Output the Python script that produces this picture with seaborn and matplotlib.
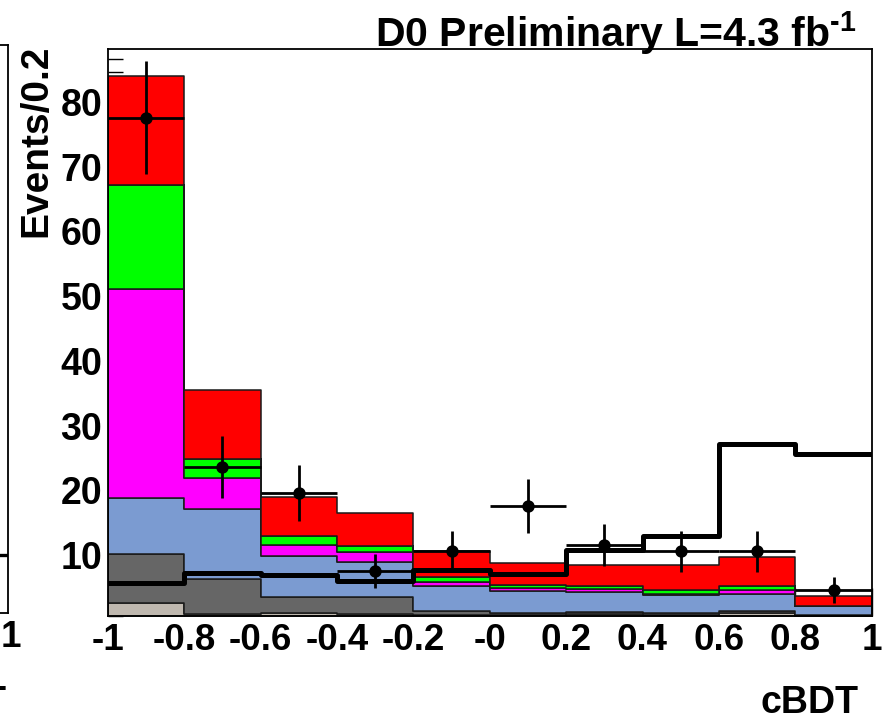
import numpy as np
import pandas as pd
import matplotlib
matplotlib.use("Agg")
import matplotlib.pyplot as plt
import matplotlib.transforms as mtransforms
import seaborn as sns

# ---- histogram binning and labels ----
bin_edges = [-1.0, -0.8, -0.6, -0.4, -0.2, 0.0, 0.2, 0.4, 0.6, 0.8, 1.0]
x_tick_labels = ["-1", "-0.8", "-0.6", "-0.4", "-0.2", "-0", "0.2", "0.4", "0.6", "0.8", "1"]
y_tick_values = [10, 20, 30, 40, 50, 60, 70, 80]

# ---- background components (events per bin, bottom to top of the stack) ----
bkg_tan = [2.1, 0.3, 0.5, 0.3, 0.2, 0.2, 0.3, 0.2, 0.45, 0.05]
bkg_gray = [7.5, 5.4, 2.5, 2.7, 0.65, 0.35, 0.35, 0.25, 0.35, 0.1]
bkg_blue = [8.7, 10.85, 6.35, 5.4, 3.85, 3.35, 3.15, 2.75, 2.7, 1.35]
bkg_magenta = [32.3, 4.85, 1.65, 1.5, 0.6, 0.5, 0.4, 0.3, 0.5, 0.05]
bkg_green = [16.0, 2.9, 1.4, 0.9, 0.7, 0.4, 0.45, 0.5, 0.7, 0.05]
bkg_red = [16.9, 10.6, 6.0, 5.1, 4.1, 3.4, 3.3, 3.9, 4.5, 1.5]

# ---- signal expectation (drawn unstacked) and observed data ----
signal = [5.2, 6.6, 6.3, 5.4, 7.2, 6.5, 10.2, 12.4, 26.6, 25.0]
data_counts = [77, 23, 19, 7, 10, 17, 11, 10, 10, 4]

# neighbouring panel: only its last-bin signal level reaches into view
left_panel_signal_last = [9.0]

bin_centers = [(a + b) / 2 for a, b in zip(bin_edges[:-1], bin_edges[1:])]
half_width = [(b - a) / 2 for a, b in zip(bin_edges[:-1], bin_edges[1:])]

components = {
    "red": bkg_red,
    "green": bkg_green,
    "magenta": bkg_magenta,
    "blue": bkg_blue,
    "gray": bkg_gray,
    "tan": bkg_tan,
}
palette = {
    "red": "#FF0000",
    "green": "#00FF00",
    "magenta": "#FF00FF",
    "blue": "#7B9BD1",
    "gray": "#666666",
    "tan": "#BFB8AF",
}

rows = []
for name, vals in components.items():
    for xc, v in zip(bin_centers, vals):
        rows.append({"cBDT": xc, "weight": v, "component": name})
df = pd.DataFrame(rows)

sns.set_style("white")
plt.rcParams["font.family"] = ["Liberation Sans", "DejaVu Sans"]
plt.rcParams["font.weight"] = "bold"
for key in ("text.color", "axes.labelcolor", "xtick.color", "ytick.color"):
    plt.rcParams[key] = "black"
plt.rcParams["mathtext.fontset"] = "custom"
plt.rcParams["mathtext.rm"] = "Liberation Sans:bold"
plt.rcParams["mathtext.bf"] = "Liberation Sans:bold"
plt.rcParams["mathtext.it"] = "Liberation Sans:bold"

W, H = 884, 722
fig = plt.figure(figsize=(W / 100, H / 100), dpi=100)

def fx(px):
    return px / W

def fy(py):
    return 1 - py / H

# main panel frame (pixel edges)
L, R, T, B = 107.7, 871.7, 49.0, 616.2
ax = fig.add_axes([fx(L), fy(B), fx(R) - fx(L), fy(T) - fy(B)])
ax.set_axisbelow(True)

sns.histplot(
    data=df, x="cBDT", weights="weight", hue="component",
    hue_order=list(components.keys()), bins=bin_edges,
    multiple="stack", element="step", palette=palette, alpha=1,
    linewidth=1.1, edgecolor="#1a1a1a", legend=False, ax=ax,
)

sns.histplot(
    x=bin_centers, weights=signal, bins=bin_edges, element="step",
    fill=False, color="black", linewidth=3.6, ax=ax,
)

ax.errorbar(bin_centers, data_counts, xerr=half_width, yerr=np.sqrt(data_counts),
            fmt="none", ecolor="black", elinewidth=2.0, capsize=0, zorder=4)
sns.scatterplot(x=bin_centers, y=data_counts, color="black", s=80,
                edgecolor="black", linewidth=0, zorder=5, ax=ax)

ax.set_xlim(-1, 1)
ax.set_ylim(0, 87.6)
ax.set_xlabel("")
ax.set_ylabel("")
ax.set_xticks(bin_edges)
ax.set_xticklabels(x_tick_labels, fontweight="bold", fontsize=26.5)
ax.set_yticks(y_tick_values)
ax.set_yticklabels([str(v) for v in y_tick_values], fontweight="bold", fontsize=27)
ax.set_yticks(np.arange(0, 88, 2), minor=True)
ax.tick_params(axis="y", which="major", direction="in", length=20, width=1, pad=4, left=True)
ax.tick_params(axis="y", which="minor", direction="in", length=11, width=1, left=True)
ax.tick_params(axis="x", which="major", direction="in", length=20, width=1, pad=5, bottom=True)
shift = mtransforms.ScaledTranslation(0, -3.6 / 100, fig.dpi_scale_trans)
for lab in ax.get_yticklabels():
    lab.set_transform(lab.get_transform() + shift)
for s in ax.spines.values():
    s.set_color("black")
    s.set_linewidth(1.3)
    s.set_zorder(6)

# neighbouring panel, mostly outside the canvas
LB, LT = 613.0, 45.0
axl = fig.add_axes([fx(8) - (fx(R) - fx(L)), fy(LB), fx(R) - fx(L), fy(LT) - fy(LB)])
axl.set_xlim(-1, 1)
axl.set_ylim(0, 87.6)
axl.plot([bin_edges[-2], bin_edges[-1]], left_panel_signal_last * 2, color="black", lw=2.4)
axl.set_xticks([1.0])
axl.set_xticklabels(["1"], fontweight="bold", fontsize=26.5)
axl.set_yticks([])
axl.tick_params(axis="x", length=0, pad=5)
nudge = mtransforms.ScaledTranslation(2.5 / 100, 0, fig.dpi_scale_trans)
for lab in axl.get_xticklabels():
    lab.set_transform(lab.get_transform() + nudge)
axl.set_facecolor("white")
for s in axl.spines.values():
    s.set_color("black")
    s.set_linewidth(1.3)

# titles and axis captions
fig.text(fx(857), fy(47), r"D0 Preliminary L=4.3 fb$^{\text{-1}}$", ha="right", va="baseline",
         fontsize=29.5, fontweight="bold")
fig.text(fx(858), fy(721), "cBDT", ha="right", va="bottom", fontsize=27, fontweight="bold")
fig.text(fx(7), fy(721), "cBDT", ha="right", va="bottom", fontsize=27, fontweight="bold")
fig.text(fx(36), fy(45), "Events/0.2", rotation=90, ha="center", va="top",
         fontsize=28, fontweight="bold")

fig.savefig("out.png", dpi=100, facecolor="white")
